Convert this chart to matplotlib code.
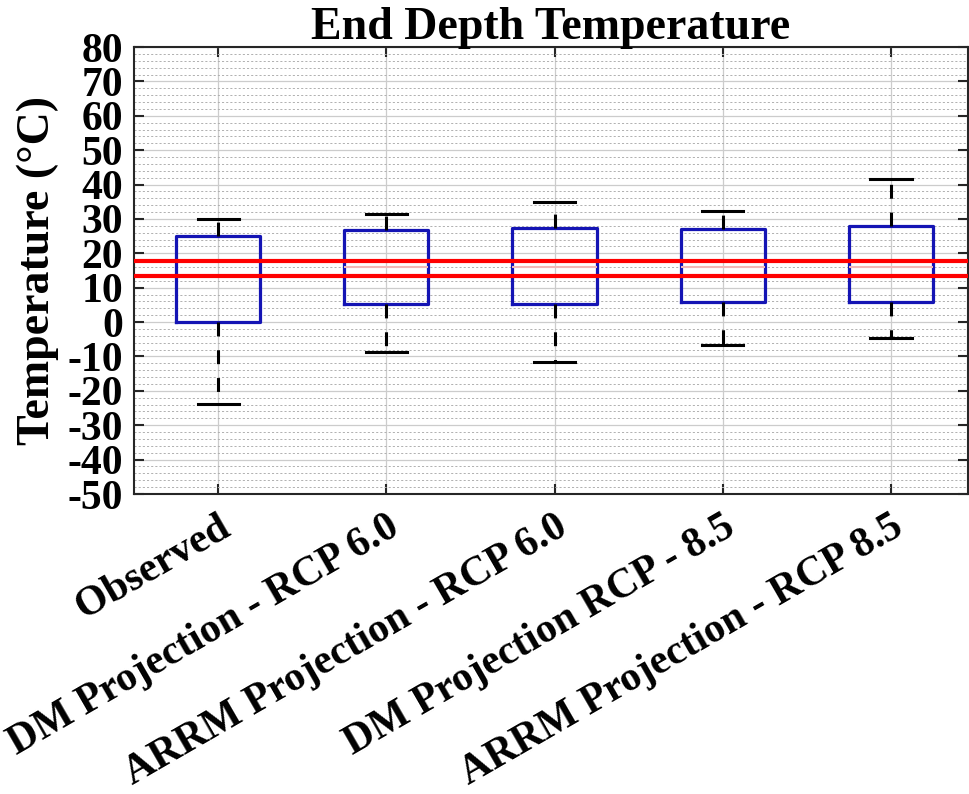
import matplotlib
matplotlib.use("Agg")
import matplotlib.pyplot as plt
from matplotlib.ticker import MultipleLocator

categories = ["Observed", "DM Projection - RCP 6.0", "ARRM Projection - RCP 6.0",
              "DM Projection RCP - 8.5", "ARRM Projection - RCP 8.5"]
whisker_low = [-23.7, -8.7, -11.6, -6.7, -4.5]
q1 = [0.0, 5.4, 5.4, 5.7, 5.9]
median = [13.4, 16.0, 16.0, 16.0, 16.0]
q3 = [25.1, 26.8, 27.3, 27.1, 28.0]
whisker_high = [30.0, 31.4, 35.0, 32.4, 41.7]
ref_lines = [17.8, 13.4]
yticks = list(range(-50, 81, 10))

plt.rcParams['font.family'] = ['Liberation Serif', 'DejaVu Serif']
plt.rcParams['font.weight'] = 'bold'
plt.rcParams['lines.scale_dashes'] = False
plt.rcParams['axes.unicode_minus'] = False

fig = plt.figure(figsize=(9.69, 7.94), dpi=100)
ax = fig.add_axes([134/969, 1-494/794, (968-134)/969, (494-47)/794])

stats = []
for i, c in enumerate(categories):
    stats.append(dict(label=c, whislo=whisker_low[i], q1=q1[i], med=median[i],
                      q3=q3[i], whishi=whisker_high[i], fliers=[]))

pos = list(range(1, len(categories) + 1))
ax.bxp(stats, positions=pos, widths=0.5, capwidths=0.245, showfliers=False,
       boxprops=dict(color='#1414b4', linewidth=2.3),
       whiskerprops=dict(color='black', linewidth=2.2, linestyle=(0, (10, 10))),
       capprops=dict(color='black', linewidth=2.2),
       medianprops=dict(color='#f2b8b8', linewidth=1.5),
       zorder=3)

for v in ref_lines:
    ax.axhline(v, color='#ff0000', linewidth=3.0, zorder=4)

ax.set_xlim(0.5, 5.458)
ax.set_ylim(-50, 80)
ax.set_yticks(yticks)
ax.set_yticklabels([str(v) for v in yticks])
ax.yaxis.set_minor_locator(MultipleLocator(2))
ax.set_xticks(pos)
ax.set_xticklabels(categories, rotation=30, ha='right', va='top',
                   rotation_mode='anchor', fontsize=30, fontweight='bold')
for t in ax.get_yticklabels():
    t.set_fontsize(30)
    t.set_fontweight('bold')

ax.grid(True, which='major', axis='both', color='#cccccc', linewidth=0.9, linestyle='-', zorder=0)
ax.grid(True, which='minor', axis='y', color='#b0b0b0', linewidth=0.7, linestyle=(0, (1.5, 1.5)), zorder=0)
ax.set_axisbelow(True)

ax.tick_params(axis='both', which='major', direction='in', length=7, width=1.5,
               top=True, right=True, color='#262626')
ax.tick_params(axis='y', which='major', pad=8)
ax.tick_params(axis='x', which='major', pad=10)
ax.tick_params(axis='both', which='minor', length=0)
for s in ax.spines.values():
    s.set_linewidth(1.5)
    s.set_color('#262626')

ax.set_title("End Depth Temperature", fontsize=33, fontweight='bold', pad=6)
ax.set_ylabel("Temperature (°C)", fontsize=33, fontweight='bold')
ax.yaxis.set_label_coords(-0.09, 0.5)

fig.savefig("out.png", dpi=100)
